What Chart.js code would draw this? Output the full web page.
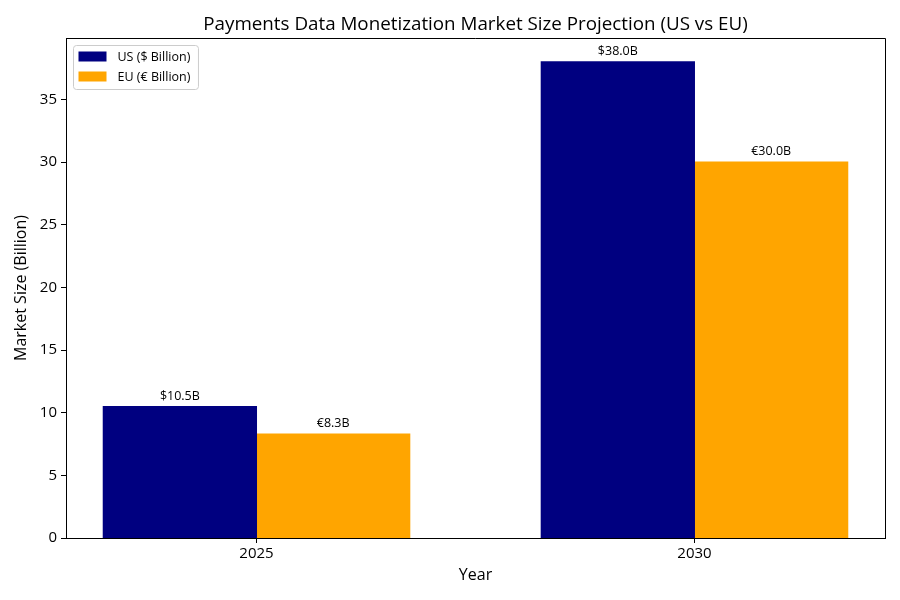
<!DOCTYPE html>
<html>
<head>
<meta charset="utf-8">
<script src="https://cdn.jsdelivr.net/npm/chart.js@4.4.0/dist/chart.umd.min.js"></script>
<style>
  html, body { margin: 0; padding: 0; background: #fff; }
  #wrap { width: 900px; height: 600px; }
</style>
</head>
<body>
<div id="wrap"><canvas id="chart"></canvas></div>
<script>
const years = [2025, 2030];
const usValues = [10.5, 38.0];
const euValues = [8.3, 30.0];
const seriesNames = ['US ($ Billion)', 'EU (€ Billion)'];
const currencySymbols = ['$', '€'];
const yTickValues = [0, 5, 10, 15, 20, 25, 30, 35];

const FONT = '"Open Sans"';

// top and right spines, like the matplotlib box
const frame = {
  id: 'frame',
  afterDraw(chart) {
    const { ctx, chartArea: a } = chart;
    ctx.save();
    ctx.strokeStyle = '#000';
    ctx.lineWidth = 1;
    ctx.beginPath();
    ctx.moveTo(Math.round(a.left), Math.round(a.top) + 0.5);
    ctx.lineTo(Math.round(a.right) + 0.5, Math.round(a.top) + 0.5);
    ctx.lineTo(Math.round(a.right) + 0.5, Math.round(a.bottom));
    ctx.stroke();
    ctx.restore();
  }
};

// value labels on top of each bar
const barLabels = {
  id: 'barLabels',
  afterDatasetsDraw(chart) {
    const ctx = chart.ctx;
    ctx.save();
    ctx.font = '12.5px ' + FONT;
    ctx.fillStyle = '#000';
    ctx.textAlign = 'center';
    ctx.textBaseline = 'bottom';
    chart.data.datasets.forEach((ds, i) => {
      chart.getDatasetMeta(i).data.forEach((bar, j) => {
        const v = ds.data[j].y;
        ctx.fillText(currencySymbols[i] + v.toFixed(1) + 'B', bar.x, bar.y - 4);
      });
    });
    ctx.restore();
  }
};

// legend box in the upper left corner of the plot
const boxLegend = {
  id: 'boxLegend',
  afterDraw(chart) {
    const { ctx, chartArea: a } = chart;
    ctx.save();
    ctx.font = '12.5px ' + FONT;
    const items = chart.data.datasets;
    const textW = Math.max(...items.map(d => ctx.measureText(d.label).width));
    const x = Math.round(a.left) + 7.5, y = Math.round(a.top) + 7.5;
    const w = 44 + textW + 8, h = 44;
    ctx.beginPath();
    ctx.roundRect(x, y, w, h, 3);
    ctx.fillStyle = 'rgba(255,255,255,0.8)';
    ctx.fill();
    ctx.strokeStyle = '#cccccc';
    ctx.lineWidth = 1;
    ctx.stroke();
    items.forEach((d, i) => {
      const rowY = y + 6 + i * 20;
      ctx.fillStyle = d.backgroundColor;
      ctx.fillRect(x + 5, rowY, 28, 10);
      ctx.fillStyle = '#000';
      ctx.textBaseline = 'middle';
      ctx.fillText(d.label, x + 44, rowY + 5.5);
    });
    ctx.restore();
  }
};

new Chart(document.getElementById('chart'), {
  type: 'bar',
  data: {
    datasets: [
      {
        label: seriesNames[0],
        data: years.map((yr, i) => ({ x: yr, y: usValues[i] })),
        backgroundColor: '#000080',
        borderWidth: 0,
        inflateAmount: 0.5
      },
      {
        label: seriesNames[1],
        data: years.map((yr, i) => ({ x: yr, y: euValues[i] })),
        backgroundColor: '#FFA500',
        borderWidth: 0,
        inflateAmount: 0.5
      }
    ]
  },
  options: {
    responsive: true,
    maintainAspectRatio: false,
    animation: false,
    categoryPercentage: 0.7,
    barPercentage: 1.0,
    layout: { padding: { top: 0, right: 15, bottom: 0, left: 0 } },
    plugins: {
      legend: { display: false },
      tooltip: { enabled: false },
      title: {
        display: true,
        fullSize: false,
        text: 'Payments Data Monetization Market Size Projection (US vs EU)',
        color: '#000',
        font: { family: FONT, size: 18.8, weight: 'normal' },
        padding: { top: 13, bottom: 2.44 }
      }
    },
    scales: {
      x: {
        type: 'linear',
        offset: false,
        min: 2022.825,
        max: 2032.175,
        afterBuildTicks: s => { s.ticks = years.map(v => ({ value: v })); },
        afterFit: s => { s.height = 62; },
        ticks: {
          color: '#000',
          font: { family: FONT, size: 15 },
          padding: 2,
          maxRotation: 0,
          callback: v => String(v)
        },
        grid: { offset: false, drawOnChartArea: false, drawTicks: true, tickLength: 5, color: '#000' },
        border: { display: true, color: '#000', width: 1 },
        title: {
          display: true,
          text: 'Year',
          color: '#000',
          font: { family: FONT, size: 16 },
          padding: { top: 0, bottom: 15 }
        }
      },
      y: {
        min: 0,
        max: 39.9,
        afterBuildTicks: s => { s.ticks = yTickValues.map(v => ({ value: v })); },
        afterFit: s => { s.width = 66; },
        ticks: {
          color: '#000',
          font: { family: FONT, size: 15 },
          padding: 4,
          callback: v => String(v)
        },
        grid: { drawOnChartArea: false, drawTicks: true, tickLength: 5, color: '#000' },
        border: { display: true, color: '#000', width: 1 },
        title: {
          display: true,
          text: 'Market Size (Billion)',
          color: '#000',
          font: { family: FONT, size: 16 },
          padding: { top: 12, bottom: 0 }
        }
      }
    }
  },
  plugins: [frame, barLabels, boxLegend]
});
</script>
</body>
</html>
